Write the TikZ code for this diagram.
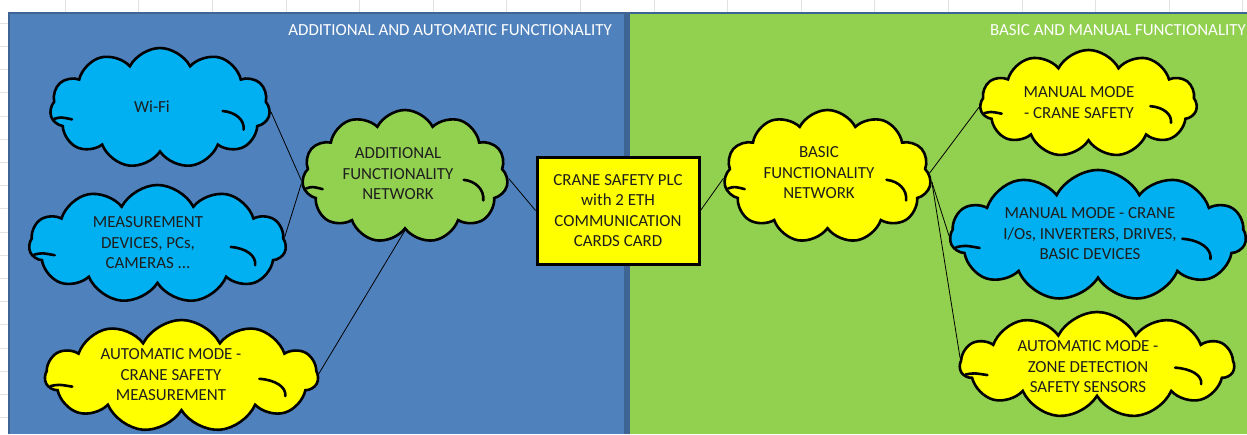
\documentclass[tikz,border=0pt]{standalone}
\usepackage{fontspec}
\setmainfont{Carlito}
\usetikzlibrary{shapes.symbols,calc}
\definecolor{panelblue}{HTML}{4F81BD}
\definecolor{panelgreen}{HTML}{92D050}
\definecolor{cloudcyan}{HTML}{00B0F0}
\definecolor{cloudyellow}{HTML}{FFFF00}
\definecolor{divblue}{HTML}{3E6494}
\definecolor{txtdark}{HTML}{1E1E1E}
\definecolor{gridgray}{HTML}{E2E2E2}
\tikzset{
  cloudbox/.style={cloud, cloud puffs=11, cloud puff arc=125, cloud ignores aspect,
    draw=black, line width=2.6pt, inner sep=0pt},
  markline/.style={draw=black, line width=2.6pt, line cap=round},
  txt/.style={align=center, text=txtdark, inner sep=0pt,
    font=\fontsize{16.9}{20.5}\selectfont},
  headtxt/.style={text=white, inner sep=0pt, font=\fontsize{16.9}{20}\selectfont},
  plcbox/.style={draw=black, line width=3pt, fill=cloudyellow, inner sep=0pt},
  conn/.style={draw=black, line width=0.8pt}
}
\newcommand\cloudmarks[3]{%
  \begin{scope}[shift={(#1.center)}, x=#2pt, y=-#3pt]
    \draw[markline] (-0.96,0.18) .. controls (-0.9,0.15) .. (-0.8,0.19);
    \draw[markline] (0.57,0.05) .. controls (0.69,0.07) and (0.77,0.2) .. (0.76,0.36);
  \end{scope}}
\begin{document}
\begin{tikzpicture}[x=1pt,y=-1pt]
\useasboundingbox (0,0) rectangle (1247,434);
\fill[white] (0,0) rectangle (1247,434);
% spreadsheet grid ticks
\foreach \gx in {65,138.6,212.2,285.8,359.4,433,506.6,580.2,653.8,727.4,801,874.6,948.2,1021.8,1095.4,1169,1242.6}
  \draw[gridgray, line width=0.6pt] (\gx,0) -- (\gx,13);
\foreach \gy in {23,46.2,69.4,92.6,115.8,139,162.2,185.4,208.6,231.8,255,278.2,301.4,324.6,347.8,371,394.2,417.4}
  \draw[gridgray, line width=0.6pt] (0,\gy) -- (9,\gy);
% panels
\fill[panelblue] (9,13) rectangle (624,434);
\fill[panelgreen] (630,13) rectangle (1247,434);
\fill[divblue] (624,13) rectangle (630,434);
\draw[divblue, line width=1.6pt] (9,434) -- (9,13) -- (1247,13);
% headers
\node[headtxt, anchor=east] (hleft) at (612,30) {ADDITIONAL AND AUTOMATIC FUNCTIONALITY};
\node[headtxt, anchor=east] (hright) at (1246,30) {BASIC AND MANUAL FUNCTIONALITY};
% clouds
\node[cloudbox, fill=cloudcyan, minimum width=220pt, minimum height=120pt] (wifi) at (160,108) {};
\node[cloudbox, fill=cloudcyan, minimum width=257pt, minimum height=118pt] (meas) at (157.5,244) {};
\node[cloudbox, fill=cloudyellow, minimum width=273pt, minimum height=112pt] (auto) at (181.5,376) {};
\node[cloudbox, fill=panelgreen, minimum width=206pt, minimum height=133pt] (addnet) at (405,176.5) {};
\node[cloudbox, fill=cloudyellow, minimum width=207pt, minimum height=133pt] (basic) at (827.5,176.5) {};
\node[cloudbox, fill=cloudyellow, minimum width=217pt, minimum height=107pt] (manual) at (1088.5,103.5) {};
\node[cloudbox, fill=cloudcyan, minimum width=296pt, minimum height=131pt] (io) at (1098,235.5) {};
\node[cloudbox, fill=cloudyellow, minimum width=274pt, minimum height=106pt] (zone) at (1097,365) {};
\cloudmarks{wifi}{110}{60}
\cloudmarks{meas}{128.5}{59}
\cloudmarks{auto}{136.5}{56}
\cloudmarks{addnet}{103}{66.5}
\cloudmarks{basic}{103.5}{66.5}
\cloudmarks{manual}{108.5}{53.5}
\cloudmarks{io}{148}{65.5}
\cloudmarks{zone}{137}{53}
% PLC box
\node[plcbox, minimum width=162pt, minimum height=107pt] (plc) at (618,210.5) {};
% texts
\node[txt] (wifit) at (152,107) {Wi-Fi};
\node[txt] (meast) at (148,243) {MEASUREMENT\\DEVICES, PCs,\\CAMERAS ...};
\node[txt] (autot) at (171,375) {AUTOMATIC MODE -\\CRANE SAFETY\\MEASUREMENT};
\node[txt] (addnett) at (398,174) {ADDITIONAL\\FUNCTIONALITY\\NETWORK};
\node[txt] (plct) at (618,210.5) {CRANE SAFETY PLC\\with 2 ETH\\COMMUNICATION\\CARDS CARD};
\node[txt] (basict) at (819,173) {BASIC\\FUNCTIONALITY\\NETWORK};
\node[txt] (manualt) at (1079,102.5) {MANUAL MODE\\- CRANE SAFETY};
\node[txt] (iot) at (1090,234) {MANUAL MODE - CRANE\\I/Os, INVERTERS, DRIVES,\\BASIC DEVICES};
\node[txt] (zonet) at (1088,367) {AUTOMATIC MODE -\\ZONE DETECTION\\SAFETY SENSORS};
% connectors
\draw[conn] (wifi.-2) -- (addnet.182);
\draw[conn] (meas.3) -- (addnet.184);
\draw[conn] (auto.1) -- (addnet.-90);
\draw[conn] (addnet.-1) -- (plc.west);
\draw[conn] (plc.east) -- (basic.181);
\draw[conn] (basic.2) -- (manual.182);
\draw[conn] (basic.-3) -- (io.180);
\draw[conn] (basic.-3) -- (zone.177);
\end{tikzpicture}
\end{document}
